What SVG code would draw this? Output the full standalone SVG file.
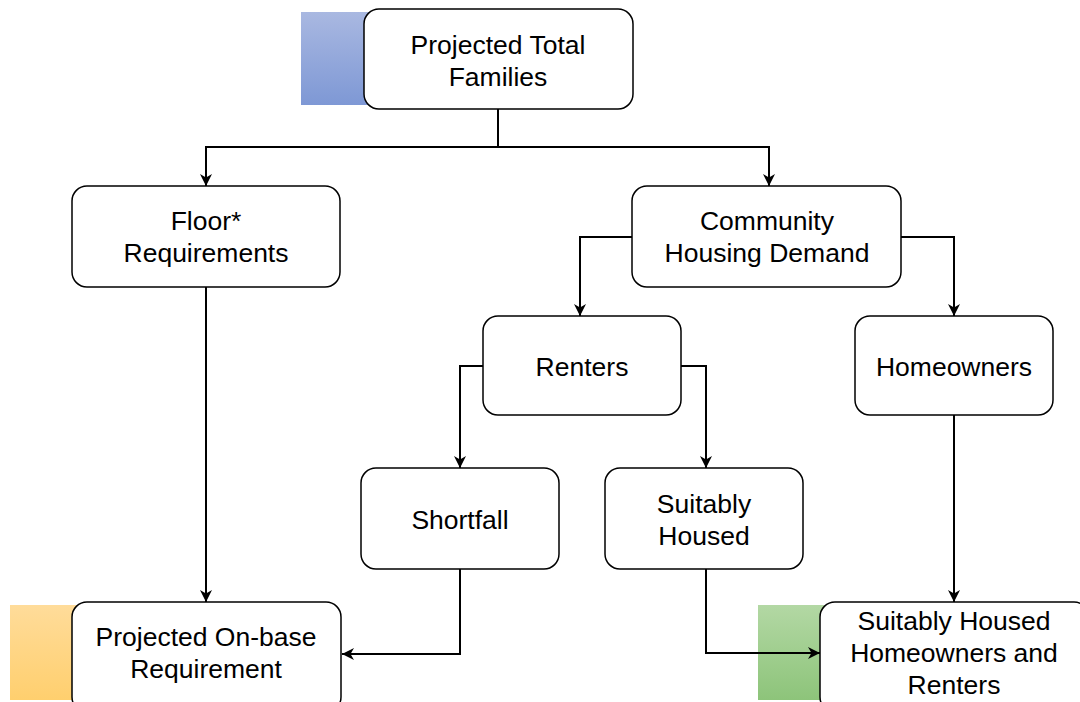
<svg xmlns="http://www.w3.org/2000/svg" width="1080" height="702" viewBox="0 0 1080 702">
<defs>
<linearGradient id="gb" x1="0" y1="0" x2="0" y2="1"><stop offset="0" stop-color="#a9b8e1"/><stop offset="1" stop-color="#7e98d5"/></linearGradient>
<linearGradient id="go" x1="0" y1="0" x2="0" y2="1"><stop offset="0" stop-color="#ffdc9a"/><stop offset="1" stop-color="#ffcf6e"/></linearGradient>
<linearGradient id="gg" x1="0" y1="0" x2="0" y2="1"><stop offset="0" stop-color="#b3d8a4"/><stop offset="1" stop-color="#8dc47a"/></linearGradient>
<marker id="ah" markerWidth="14" markerHeight="14" refX="12" refY="7" orient="auto" markerUnits="userSpaceOnUse">
<path d="M0,1 L12,7 L0,13 L3.5,7 Z" fill="#000"/>
</marker>
<style>
.n{fill:#fff;stroke:#000;stroke-width:1.5}
.t{font-family:"Liberation Sans",Arial,sans-serif;font-size:26.5px;fill:#000;text-anchor:middle}
.c{fill:none;stroke:#000;stroke-width:2;marker-end:url(#ah)}
</style>
</defs>
<rect x="301" y="12" width="70" height="93" fill="url(#gb)"/>
<rect x="10" y="605" width="70" height="95" fill="url(#go)"/>
<rect x="758" y="605" width="70" height="95" fill="url(#gg)"/>
<g id="connectors">
<path d="M498,109 V147" fill="none" stroke="#000" stroke-width="2"/>
<path class="c" d="M498,147 H206 V186"/>
<path class="c" d="M498,147 H769 V186"/>
<path class="c" d="M632,237 H580 V316"/>
<path class="c" d="M901,237 H954 V316"/>
<path class="c" d="M483,366 H460 V468"/>
<path class="c" d="M681,366 H706 V468"/>
<path class="c" d="M206,287 V602"/>
<path class="c" d="M460,569 V654 H342"/>
<path class="c" d="M706,569 V653 H820"/>
<path class="c" d="M954,415 V602"/>
</g>
<g id="n-total"><rect class="n" x="364" y="9" width="269" height="100" rx="15"/><text class="t" x="498" y="53.5">Projected Total</text><text class="t" x="498" y="85.5">Families</text></g>
<g id="n-floor"><rect class="n" x="72" y="186" width="268" height="101" rx="15"/><text class="t" x="206" y="230">Floor*</text><text class="t" x="206" y="262">Requirements</text></g>
<g id="n-community"><rect class="n" x="632" y="186" width="269" height="101" rx="15"/><text class="t" x="767" y="230">Community</text><text class="t" x="767" y="262">Housing Demand</text></g>
<g id="n-renters"><rect class="n" x="483" y="316" width="198" height="99" rx="15"/><text class="t" x="582" y="376">Renters</text></g>
<g id="n-homeowners"><rect class="n" x="855" y="316" width="198" height="99" rx="15"/><text class="t" x="954" y="376">Homeowners</text></g>
<g id="n-shortfall"><rect class="n" x="361" y="468" width="198" height="101" rx="15"/><text class="t" x="460" y="529">Shortfall</text></g>
<g id="n-suitably"><rect class="n" x="605" y="468" width="198" height="101" rx="15"/><text class="t" x="704" y="513">Suitably</text><text class="t" x="704" y="545">Housed</text></g>
<g id="n-onbase"><rect class="n" x="72" y="602" width="269" height="110" rx="15"/><text class="t" x="206" y="646">Projected On-base</text><text class="t" x="206" y="678">Requirement</text></g>
<g id="n-suitably-all"><rect class="n" x="820" y="602" width="269" height="110" rx="15"/><text class="t" x="954" y="630">Suitably Housed</text><text class="t" x="954" y="662">Homeowners and</text><text class="t" x="954" y="694">Renters</text></g>
</svg>
